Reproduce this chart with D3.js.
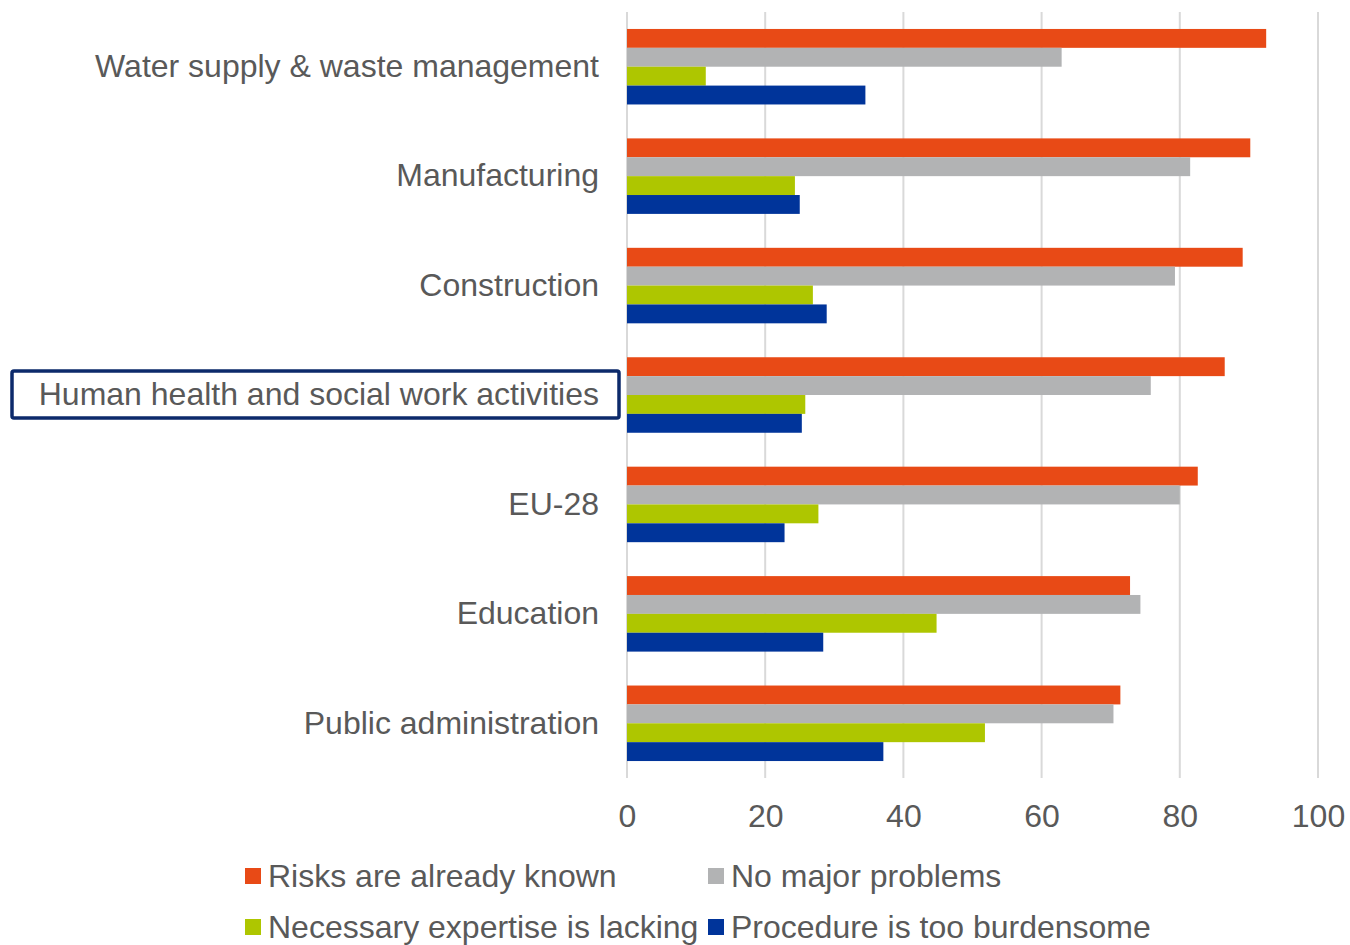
<!DOCTYPE html>
<html>
<head>
<meta charset="utf-8">
<script src="https://cdn.jsdelivr.net/npm/d3@7"></script>
<style>
  html, body { margin: 0; padding: 0; background: #fff; }
  svg { display: block; font-family: "Liberation Sans", Arial, sans-serif; }
</style>
</head>
<body>
<svg id="chart" width="1350" height="945"></svg>
<script>
// Sectors, top to bottom
const categories = [
  "Water supply & waste management",
  "Manufacturing",
  "Construction",
  "Human health and social work activities",
  "EU-28",
  "Education",
  "Public administration"
];

const seriesNames = [
  "Risks are already known",
  "No major problems",
  "Necessary expertise is lacking",
  "Procedure is too burdensome"
];

// Share of establishments (%) per sector, one array per reason
const risksKnown      = [92.5, 90.2, 89.1, 86.5, 82.6, 72.8, 71.4];
const noMajorProblems = [62.9, 81.5, 79.3, 75.8, 80.0, 74.3, 70.4];
const expertiseLack   = [11.4, 24.3, 26.9, 25.8, 27.7, 44.8, 51.8];
const tooBurdensome   = [34.5, 25.0, 28.9, 25.3, 22.8, 28.4, 37.1];

const xTicks = [0, 20, 40, 60, 80, 100];
const highlighted = "Human health and social work activities";

const colors = ["#E84A16", "#B2B3B4", "#AEC600", "#00349A"];
const seriesValues = [risksKnown, noMajorProblems, expertiseLack, tooBurdensome];

const fontSize = 32;
const textColor = "#595959";

const svg = d3.select("#chart");
const plotLeft = 627, plotRight = 1318, plotTop = 12, plotBottom = 778;

const x = d3.scaleLinear().domain([0, 100]).range([plotLeft, plotRight]);
const y = d3.scaleBand().domain(categories).range([plotTop, plotBottom]).paddingInner(0.31).paddingOuter(0.155);
const ySub = d3.scaleBand().domain(seriesNames).range([0, y.bandwidth()]);

// Vertical gridlines
svg.append("g")
  .selectAll("line")
  .data(xTicks)
  .join("line")
  .attr("x1", d => x(d)).attr("x2", d => x(d))
  .attr("y1", plotTop).attr("y2", plotBottom)
  .attr("stroke", "#D9D9D9")
  .attr("stroke-width", 2);

// Bars
const groups = svg.append("g")
  .selectAll("g")
  .data(categories)
  .join("g")
  .attr("transform", d => `translate(0,${y(d)})`);

groups.selectAll("rect")
  .data((c, i) => seriesNames.map((s, k) => ({ s, v: seriesValues[k][i], k })))
  .join("rect")
  .attr("x", x(0))
  .attr("y", d => ySub(d.s))
  .attr("width", d => x(d.v) - x(0))
  .attr("height", ySub.bandwidth())
  .attr("fill", d => colors[d.k]);

// X axis tick labels
const xAxis = d3.axisBottom(x).tickValues(xTicks).tickSize(0).tickPadding(0);
const gx = svg.append("g").attr("transform", `translate(0,${plotBottom + 38})`).call(xAxis);
gx.select(".domain").remove();
gx.selectAll("text")
  .attr("font-size", fontSize)
  .attr("font-family", "Liberation Sans, Arial, sans-serif")
  .attr("fill", textColor)
  .attr("dy", "0.35em");

// Category labels
const yAxis = d3.axisLeft(y).tickSize(0).tickPadding(28);
const gy = svg.append("g").attr("transform", `translate(${plotLeft},0)`).call(yAxis);
gy.select(".domain").remove();
gy.selectAll("text")
  .attr("font-size", fontSize)
  .attr("font-family", "Liberation Sans, Arial, sans-serif")
  .attr("fill", textColor);

// Frame round the highlighted sector
const hy = y(highlighted) + y.bandwidth() / 2;
svg.append("rect")
  .attr("x", 12).attr("y", hy - 24)
  .attr("width", 607).attr("height", 47)
  .attr("rx", 2)
  .attr("fill", "none")
  .attr("stroke", "#0C2A6B")
  .attr("stroke-width", 3.5);

// Legend, two columns by two rows
const legendPos = [
  { x: 245, y: 876 }, { x: 708, y: 876 },
  { x: 245, y: 927 }, { x: 708, y: 927 }
];
const legend = svg.append("g")
  .selectAll("g")
  .data(seriesNames)
  .join("g")
  .attr("transform", (d, i) => `translate(${legendPos[i].x},${legendPos[i].y})`);
legend.append("rect")
  .attr("x", 0).attr("y", -8)
  .attr("width", 16).attr("height", 16)
  .attr("fill", (d, i) => colors[i]);
legend.append("text")
  .attr("x", 23).attr("y", 0)
  .attr("dy", "0.35em")
  .attr("font-size", fontSize)
  .attr("font-family", "Liberation Sans, Arial, sans-serif")
  .attr("fill", textColor)
  .text(d => d);
</script>
</body>
</html>
